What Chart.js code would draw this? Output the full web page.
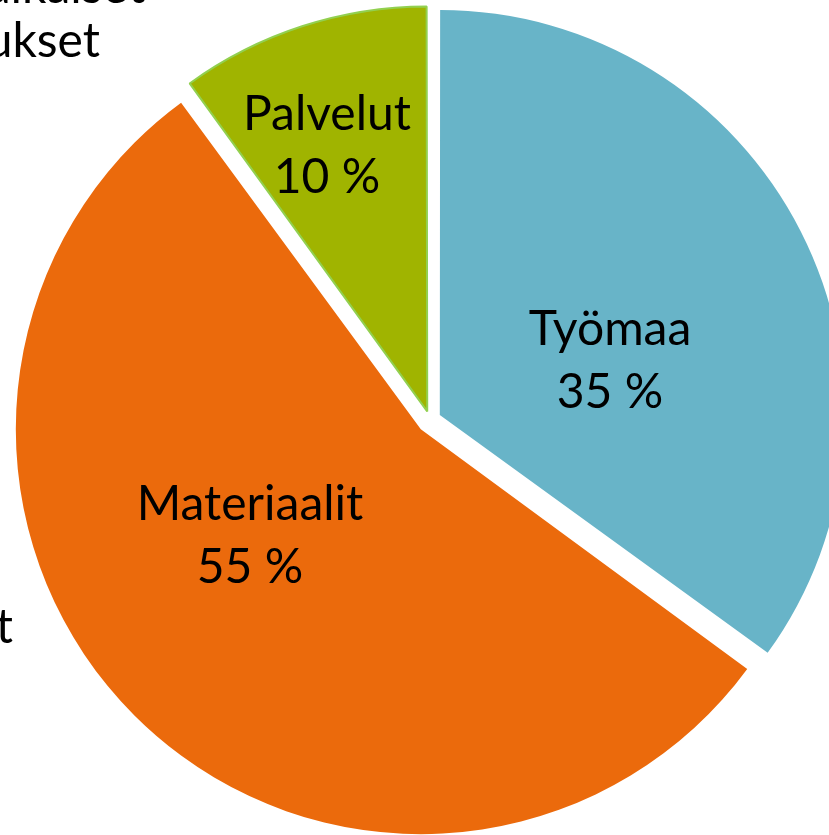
<!DOCTYPE html>
<html lang="fi">
<head>
<meta charset="utf-8">
<title>Kustannusjakauma</title>
<script src="https://cdn.jsdelivr.net/npm/chart.js@4/dist/chart.umd.min.js"></script>
<style>
  html, body { margin: 0; padding: 0; background: #fff; overflow: hidden; }
  #wrap { position: absolute; left: 0; top: 0; width: 860px; height: 840px; }
</style>
</head>
<body>
<div id="wrap"><canvas id="pieChart"></canvas></div>
<script>
// ── Data ──────────────────────────────────────────────────
const categories = ['Työmaa', 'Materiaalit', 'Palvelut'];
const shares = [35, 55, 10];
const sliceColors = ['#68B4C8', '#EB6A0C', '#A0B400'];
// labels of the chart that are mostly cut off by the crop
const outsideTexts = ['Rakennusaikaiset', 'kustannukset', 'Muut'];

// ── Helpers ───────────────────────────────────────────────

const FONT = '48px Lato, "Open Sans", sans-serif';
const BASE_R = 405;

// chart.js grows the radius of an offset arc, undo that so all slices keep one radius
const fixRadius = {
  id: 'fixRadius',
  beforeDatasetsDraw(chart) {
    const meta = chart.getDatasetMeta(0);
    meta.data.forEach(arc => {
      const off = (arc.options.offset || 0) / 4;
      const fix = 1 - Math.sin(Math.min(Math.PI, arc.circumference));
      arc.outerRadius = BASE_R - off * fix;
    });
  },
};

// two-line labels inside the slices: name + "xx %"
const sliceLabels = {
  id: 'sliceLabels',
  afterDatasetsDraw(chart, args, opts) {
    const ctx = chart.ctx;
    const meta = chart.getDatasetMeta(0);
    const arc0 = meta.data[0];
    const cx = arc0.x, cy = arc0.y;
    ctx.save();
    ctx.font = FONT;
    ctx.fillStyle = '#000';
    ctx.textAlign = 'center';
    ctx.textBaseline = 'alphabetic';
    categories.forEach((name, i) => {
      const p = opts.pos[i];
      ctx.fillText(name, cx + p.dx, cy + p.dy);
      ctx.fillText(shares[i] + ' %', cx + p.dx, cy + p.dy + opts.lineGap);
    });
    // cut-off outer labels
    ctx.textAlign = 'right';
    outsideTexts.forEach((t, i) => {
      const p = opts.outside[i];
      ctx.fillText(t, p.x, p.y);
    });
    ctx.restore();
  },
};

// ── Chart ─────────────────────────────────────────────────

new Chart(document.getElementById('pieChart'), {
  type: 'pie',
  data: {
    labels: categories,
    datasets: [{
      data: shares,
      backgroundColor: sliceColors,
      borderColor: ['#68B4C8', '#EB6A0C', '#92D050'],
      borderWidth: [0, 0, 2],
      offset: [44, 52, 36],
      radius: BASE_R,
    }],
  },
  options: {
    responsive: true,
    maintainAspectRatio: false,
    animation: false,
    layout: { padding: 0 },
    plugins: {
      legend: { display: false },
      tooltip: { enabled: false },
      sliceLabels: {
        lineGap: 63,
        pos: [
          { dx: 180, dy: -75 },
          { dx: -180, dy: 100 },
          { dx: -103, dy: -290 },
        ],
        outside: [
          { x: 145, y: 3 },
          { x: 100, y: 57 },
          { x: 13, y: 643 },
        ],
      },
    },
  },
  plugins: [fixRadius, sliceLabels],
});
</script>
</body>
</html>
